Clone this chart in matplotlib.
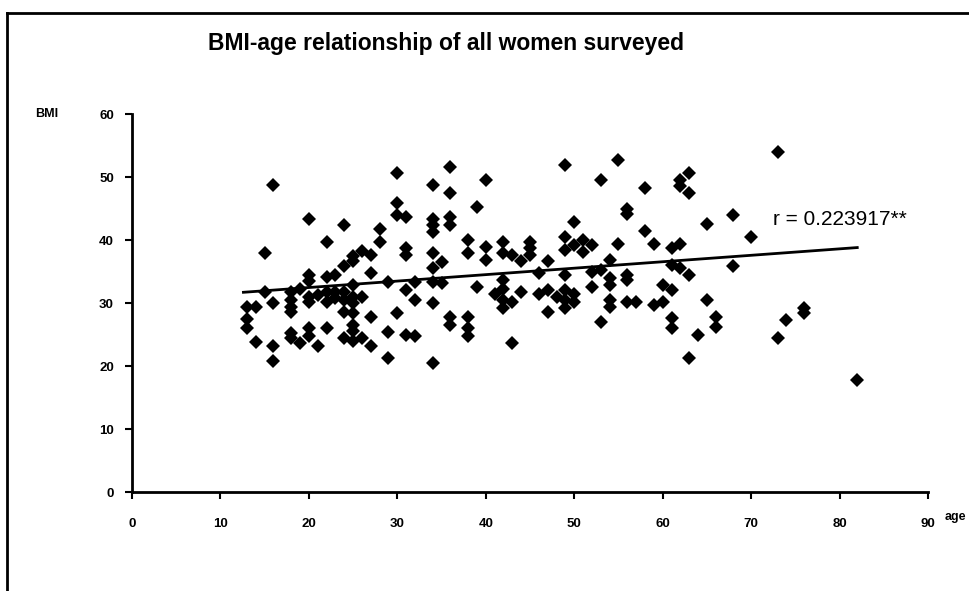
import numpy as np
import matplotlib.pyplot as plt
from matplotlib.lines import Line2D

# edad y BMI (una entrada por mujer)
age = [13, 13, 13, 14, 14, 15, 15, 16, 16, 16, 16,
       18, 18, 18, 18, 18, 18, 19, 19,
       20, 20, 20, 20, 20, 20, 20, 21, 21,
       22, 22, 22, 22, 22, 23, 23, 23,
       24, 24, 24, 24, 24, 24,
       25, 25, 25, 25, 25, 25, 25, 25, 25,
       26, 26, 26, 27, 27, 27, 27, 28, 28,
       29, 29, 29, 30, 30, 30, 30,
       31, 31, 31, 31, 31, 32, 32, 32,
       34, 34, 34, 34, 34, 34, 34, 34, 34, 35, 35,
       36, 36, 36, 36, 36, 36, 38, 38, 38, 38, 38, 39, 39,
       40, 40, 40, 41, 42, 42, 42, 42, 42, 42, 43, 43, 43,
       44, 44, 45, 45, 45, 46, 46, 47, 47, 47, 48,
       49, 49, 49, 49, 49, 49, 49, 50, 50, 50, 50, 51, 51,
       52, 52, 52, 53, 53, 53, 54, 54, 54, 54, 54, 55, 55,
       56, 56, 56, 56, 56, 57, 58, 58, 59, 59, 60, 60,
       61, 61, 61, 61, 61, 62, 62, 62, 62, 63, 63, 63, 63,
       64, 65, 65, 66, 66, 68, 68, 70, 73, 73, 74, 76, 76, 82]
bmi = [29.4, 27.5, 26.0, 29.4, 23.8, 38.0, 31.8, 48.7, 30.0, 23.1, 20.8,
       31.8, 30.5, 29.4, 28.6, 25.2, 24.5, 32.3, 23.6,
       43.3, 34.4, 33.5, 30.2, 26.0, 24.7, 31.0, 31.3, 23.1,
       39.7, 34.2, 31.8, 30.2, 26.1, 34.4, 31.8, 30.8,
       42.4, 35.8, 31.8, 30.5, 28.6, 24.4,
       36.6, 37.4, 32.9, 31.0, 30.0, 28.4, 26.5, 25.5, 23.9,
       38.2, 31.0, 24.4, 37.6, 34.7, 27.8, 23.1, 41.8, 39.7,
       33.4, 25.4, 21.2, 50.6, 45.8, 44.0, 28.4,
       43.6, 38.7, 37.6, 32.1, 24.9, 33.4, 30.5, 24.7,
       48.7, 43.4, 42.4, 41.3, 38.0, 35.5, 33.4, 30.0, 20.4, 36.5, 33.1,
       51.6, 47.4, 43.7, 42.4, 27.8, 26.5, 40.0, 37.9, 27.8, 26.0, 24.7, 45.3, 32.6,
       49.6, 38.9, 36.8, 31.5, 39.7, 37.9, 33.6, 32.3, 30.5, 29.2, 37.6, 30.2, 23.6,
       36.6, 31.8, 39.7, 38.8, 37.6, 34.7, 31.5, 36.6, 32.1, 28.6, 31.0,
       51.9, 40.5, 38.4, 34.4, 32.1, 30.5, 29.2, 42.9, 39.2, 31.5, 30.2, 40.0, 38.1,
       39.2, 35.0, 32.6, 49.5, 35.2, 27.0, 36.8, 33.9, 32.8, 30.5, 29.4, 52.7, 39.3,
       45.0, 44.2, 34.4, 33.7, 30.1, 30.1, 48.3, 41.4, 39.3, 29.7, 32.9, 30.1,
       38.7, 36.0, 32.1, 27.6, 26.0, 49.5, 48.5, 39.3, 35.5, 50.6, 47.4, 34.4, 21.3,
       25.0, 42.5, 30.5, 27.8, 26.2, 44.0, 35.9, 40.5, 53.9, 24.4, 27.3, 29.2, 28.4, 17.8]

# recta de tendencia (extremos)
trend_age = [12.6, 82]
trend_bmi = [31.7, 38.8]

xticks = [0, 10, 20, 30, 40, 50, 60, 70, 80, 90]
yticks = [0, 10, 20, 30, 40, 50, 60]

plt.rcParams['font.family'] = ['Liberation Sans', 'DejaVu Sans']

fig = plt.figure(figsize=(9.69, 5.91), dpi=100)
ax = fig.add_axes([0.1362, 0.1675, 0.8215, 0.6396])

ax.plot(age, bmi, 'D', color='black', markersize=7.5, markeredgewidth=0, clip_on=False)
ax.plot(trend_age, trend_bmi, color='black', linewidth=2)

ax.set_xlim(0, 90)
ax.set_ylim(0, 60)
ax.set_xticks(xticks)
ax.set_yticks(yticks)
ax.spines['top'].set_visible(False)
ax.spines['right'].set_visible(False)
for s in ['left', 'bottom']:
    ax.spines[s].set_linewidth(2)
ax.tick_params(axis='both', direction='out', length=5, width=1.5, labelsize=9.5)
ax.tick_params(axis='y', pad=8)
ax.tick_params(axis='x', pad=14)
for lab in ax.get_xticklabels() + ax.get_yticklabels():
    lab.set_fontweight('bold')

ax.text(72.5, 43.2, 'r = 0.223917**', fontsize=15, va='center', ha='left')

fig.text(0.46, 0.927, 'BMI-age relationship of all women surveyed',
         ha='center', va='center', fontsize=16.5, fontweight='bold')
fig.text(0.036, 1 - 114 / 591, 'BMI', ha='left', va='center', fontsize=9, fontweight='bold')
fig.text(0.975, 1 - 517 / 591, 'age', ha='left', va='center', fontsize=9, fontweight='bold')

# marco del recuadro
fig.add_artist(Line2D([7 / 969, 7 / 969], [0, 1 - 13 / 591], color='black', linewidth=2))
fig.add_artist(Line2D([7 / 969, 1], [1 - 13 / 591, 1 - 13 / 591], color='black', linewidth=2))

fig.savefig('out.png', dpi=100)
